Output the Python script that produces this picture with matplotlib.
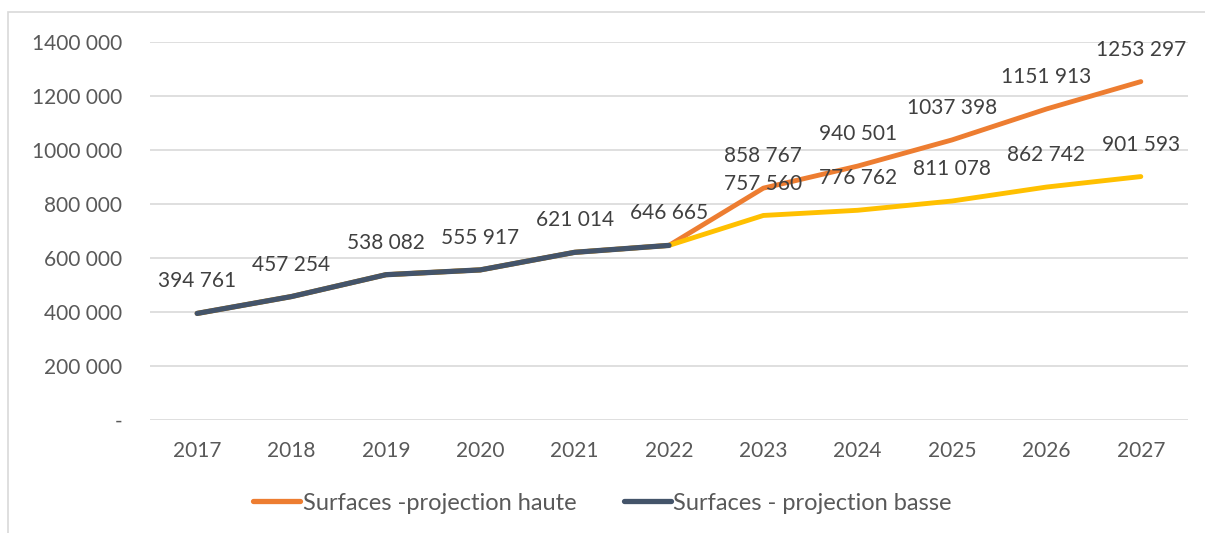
import matplotlib.pyplot as plt
from matplotlib.patches import Rectangle
from matplotlib.lines import Line2D

years = ["2017", "2018", "2019", "2020", "2021", "2022", "2023", "2024", "2025", "2026", "2027"]
haute = [394761, 457254, 538082, 555917, 621014, 646665, 858767, 940501, 1037398, 1151913, 1253297]
basse = [394761, 457254, 538082, 555917, 621014, 646665, 757560, 776762, 811078, 862742, 901593]
n_hist = 6  # 2017-2022 are actual values

c_haute = "#ED7D31"
c_basse = "#FFC000"
c_hist = "#44546A"

plt.rcParams['font.family'] = ['Lato', 'DejaVu Sans']


def fmt(v):
    if v == 0:
        return "-"
    return "%d %03d" % (v // 1000, v % 1000)


fig = plt.figure(figsize=(12.05, 5.33), dpi=100)
ax = fig.add_axes([150 / 1205, (533 - 420) / 533, (1188 - 150) / 1205, (420 - 42) / 533])

x = list(range(len(years)))
ax.plot(x, haute, color=c_haute, lw=3.5, solid_capstyle='round', zorder=3)
ax.plot(x, basse, color=c_basse, lw=3.5, solid_capstyle='round', zorder=3)
ax.plot(x[:n_hist], basse[:n_hist], color=c_hist, lw=3.8, solid_capstyle='round', zorder=4)

# data labels above points
for i in range(len(years)):
    ax.annotate(fmt(haute[i]), (i, haute[i]), xytext=(0, 23), textcoords='offset points',
                ha='center', va='center', fontsize=15, color='#404040', zorder=5)
    if i >= n_hist:
        ax.annotate(fmt(basse[i]), (i, basse[i]), xytext=(0, 23), textcoords='offset points',
                    ha='center', va='center', fontsize=15, color='#404040', zorder=5)

ax.set_xlim(-0.5, len(years) - 0.5)
ax.set_ylim(0, 1400000)
ax.set_yticks(range(0, 1400001, 200000))
ax.set_yticklabels([fmt(v) for v in range(0, 1400001, 200000)])
ax.set_xticks(x)
ax.set_xticklabels(years)
ax.tick_params(axis='y', length=0, pad=20, labelsize=15, labelcolor='#595959')
ax.tick_params(axis='x', length=0, pad=15, labelsize=15, labelcolor='#595959')
ax.grid(axis='y', color='#D9D9D9', lw=1.2)
ax.set_axisbelow(True)
for s in ax.spines.values():
    s.set_visible(False)

handles = [Line2D([0], [0], color=c_haute, lw=3.8, solid_capstyle='round'),
           Line2D([0], [0], color=c_hist, lw=3.8, solid_capstyle='round')]
fig.legend(handles, ["Surfaces -projection haute", "Surfaces - projection basse"],
           loc='center', bbox_to_anchor=(0.5, (533 - 503) / 533), ncol=2, frameon=False,
           fontsize=17, labelcolor='#595959', handlelength=2.0, handletextpad=0.1,
           columnspacing=2.0)

# outer chart border
fig.patches.append(Rectangle((8 / 1205, -0.1), 1.2, (533 - 12) / 533 + 0.1,
                             transform=fig.transFigure, fill=False, edgecolor='#D9D9D9', lw=1.2))

fig.savefig("out.png", dpi=100)
